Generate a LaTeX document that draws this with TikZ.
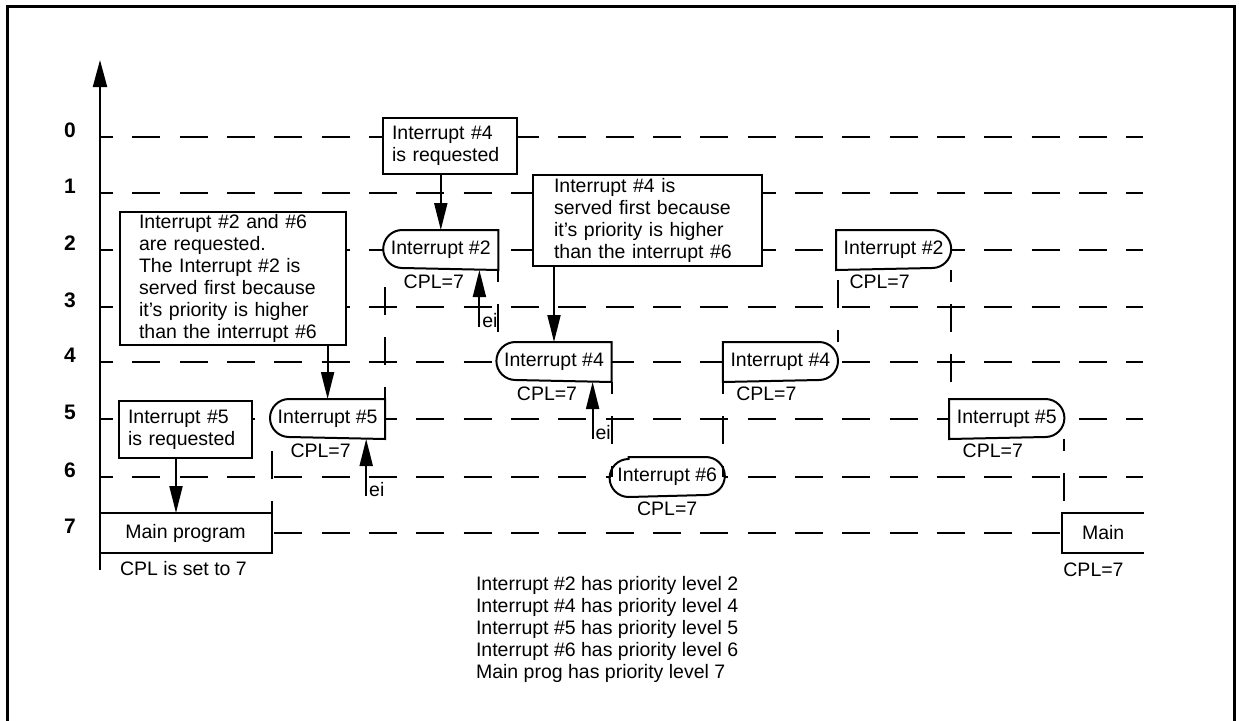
\documentclass[tikz,border=0pt]{standalone}
\usepackage{fontspec}
\setmainfont{Liberation Sans}
\usetikzlibrary{arrows.meta}

\tikzset{
  level line/.style={line width=2pt,dash pattern=on 28pt off 19.33pt,dash phase=15pt},
  switch/.style={line width=2pt,dash pattern=on 28pt off 22pt,dash phase=16pt},
  run/.style={fill=white,minimum width=113.2pt,minimum height=38pt,inner sep=0pt},
  notebox/.style={draw,fill=white,align=left,inner ysep=0pt},
  reqarrow/.style={line width=2pt,-{Triangle[length=27pt,width=13pt]}},
  cpl/.style={inner sep=0pt},
}

\begin{document}
\begin{tikzpicture}[x=1pt,y=-1pt,line width=2pt,font=\fontsize{19.5}{22}\selectfont]
      \useasboundingbox (0,0) rectangle (1239,720);
      \draw[line width=3pt] (7,6) rectangle (1234,728);

      \foreach \y in {137,193,250,307,362,419,477,533}
        \draw[level line] (100,\y) -- (1143,\y);
      \foreach \k/\y in {0/137,1/193,2/250,3/307,4/362,5/419,6/477,7/533}
        \node[font=\fontsize{21}{22}\selectfont\bfseries] (lv\k) at (70,\y-7) {\k};

      \node[run,minimum width=171pt] (m1) at (185.5,533) {Main program};
      \node[run] (i5a) at (327.6,419) {Interrupt \#5};
      \node[run] (i2a) at (440.8,250) {Interrupt \#2};
      \node[run] (i4a) at (554,362) {Interrupt \#4};
      \node[run] (i6) at (667.2,477) {Interrupt \#6};
      \node[run] (i4b) at (780.4,362) {Interrupt \#4};
      \node[run] (i2b) at (893.6,250) {Interrupt \#2};
      \node[run] (i5b) at (1006.8,419) {Interrupt \#5};
      \node[run,minimum width=79.6pt] (m2) at (1103.2,533) {Main};

      \coordinate (axisbot) at (100,570);
      \coordinate (axistop) at (100,60);
      \draw[-{Triangle[length=27pt,width=14pt]}] (axisbot) -- (axistop);

      \draw (m1.north west) -- (m1.north east) -- (m1.south east) -- (m1.south west);
      \draw (m2.north east) -- (m2.north west) -- (m2.south west) -- (m2.south east);
      \foreach \n in {i5a,i2a,i4a}
        \draw (\n.south east) -- (\n.north east) -- ([xshift=19pt]\n.north west)
          arc[start angle=90,end angle=270,radius=19pt] -- cycle;
      \foreach \n in {i4b,i2b,i5b}
        \draw (\n.south west) -- (\n.north west) -- ([xshift=-19pt]\n.north east)
          arc[start angle=90,end angle=-90,radius=19pt] -- cycle;
      \draw ([xshift=19pt]i6.north west) -- ([xshift=-19pt]i6.north east)
        arc[start angle=90,end angle=-90,radius=19pt] -- ([xshift=19pt]i6.south west)
        arc[start angle=270,end angle=90,radius=19pt] -- cycle;

      \draw[switch] (m1.north east) -- (m1.north east |- i5a.south);
      \draw[switch] (i5a.north east) -- (i5a.north east |- i2a.south);
      \draw[switch] (i2a.south east) -- (i2a.south east |- i4a.north);
      \draw[switch] (i4a.south east) -- (i4a.south east |- i6.west);
      \draw[switch] (i4b.south west) -- (i4b.south west |- i6.east);
      \draw[switch] (i4b.north east) -- (i4b.north east |- i2b.south);
      \draw[switch] (i2b.south east) -- (i2b.south east |- i5b.north);
      \draw[switch] (i5b.south east) -- (i5b.south east |- m2.north);

      \foreach \n in {i5a,i2a,i4a} {
        \coordinate (ei\n) at ([xshift=-19pt,yshift=-57pt]\n.south east);
        \draw[reqarrow] (ei\n) -- (ei\n |- \n.south);
        \node[anchor=base west,inner sep=0pt] (eilab\n) at ([xshift=2pt]ei\n) {ei};
        \node[cpl] (cpl\n) at ([xshift=-7pt,yshift=-12pt]\n.south) {CPL=7};
      }
      \node[cpl] (cpli6) at ([yshift=-12pt]i6.south) {CPL=7};
      \foreach \n in {i4b,i2b,i5b}
        \node[cpl,anchor=west] (cpl\n) at ([xshift=12.5pt,yshift=-12pt]\n.south west) {CPL=7};
      \node[cpl,anchor=west] (cplm2) at ([yshift=-17pt]m2.south west) {CPL=7};
      \node[cpl,anchor=west] (cplm1) at ([xshift=20pt,yshift=-16pt]m1.south west) {CPL is set to 7};

      \node[notebox,text width=115pt,inner xsep=9pt,minimum height=57pt] (req5) at (185.5,429.5) {Interrupt \#5\\is requested};
      \node[notebox,text width=116pt,inner xsep=9pt,minimum height=56pt] (req4) at (450,146) {Interrupt \#4\\is requested};
      \node[notebox,text width=187pt,inner xsep=21pt,minimum height=91pt] (serve4) at (647.5,220.5) {Interrupt \#4 is\\served first because\\it’s priority is higher\\than the interrupt \#6};
      \node[notebox,text width=188pt,inner xsep=19pt,minimum height=133pt] (serve2) at (233,278.5) {Interrupt \#2 and \#6\\are requested.\\The Interrupt \#2 is\\served first because\\it’s priority is higher\\than the interrupt \#6};

      \draw[reqarrow] ([xshift=-9.5pt]req5.south) -- ([xshift=-9.5pt]req5.south |- m1.north);
      \draw[reqarrow] (req4.south -| i2a.north) -- (i2a.north);
      \draw[reqarrow] (serve4.south -| i4a.north) -- (i4a.north);
      \draw[reqarrow] (serve2.south -| i5a.north) -- (i5a.north);

      \node[align=left,anchor=west,inner sep=0pt] (legend) at (475,629) {Interrupt \#2 has priority level 2\\Interrupt \#4 has priority level 4\\Interrupt \#5 has priority level 5\\Interrupt \#6 has priority level 6\\Main prog has priority level 7};
\end{tikzpicture}
\end{document}
